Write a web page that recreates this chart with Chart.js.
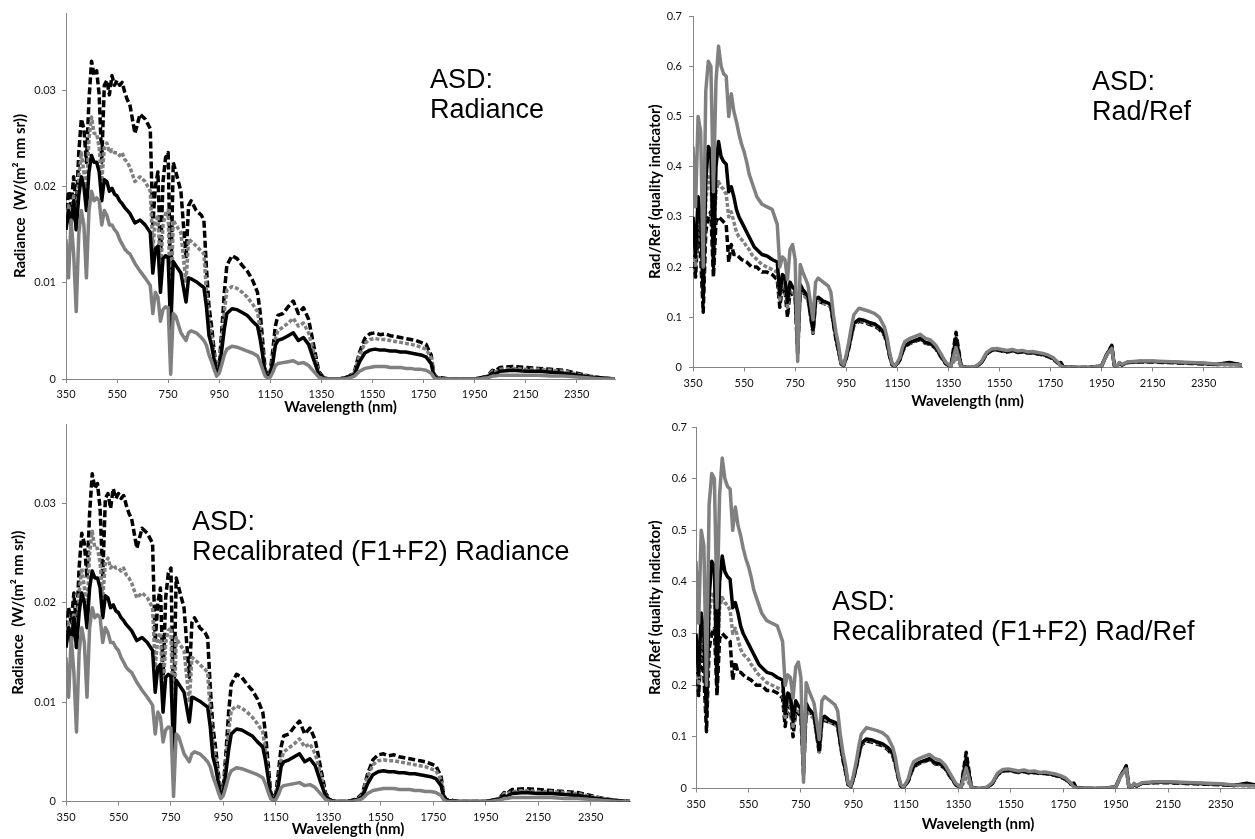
<!DOCTYPE html>
<html>
<head>
<meta charset="utf-8">
<script src="https://cdn.jsdelivr.net/npm/chart.js@4.4.0/dist/chart.umd.min.js"></script>
<style>
  html, body { margin: 0; padding: 0; background: #fff; overflow: hidden; width: 1255px; height: 839px; }
  canvas { position: absolute; }
  .note { position: absolute; font-family: "Liberation Sans", Arial, sans-serif; font-size: 27px; line-height: 30px; color: #000; white-space: nowrap; }
</style>
</head>
<body>
<canvas id="c1" width="630" height="420" style="left:0;top:0"></canvas>
<canvas id="c2" width="615" height="420" style="left:640px;top:0"></canvas>
<canvas id="c3" width="640" height="419" style="left:0;top:420px"></canvas>
<canvas id="c4" width="625" height="419" style="left:640px;top:420px"></canvas>

<div class="note" style="left:430px;top:64px">ASD:<br>Radiance</div>
<div class="note" style="left:1092px;top:66px">ASD:<br>Rad/Ref</div>
<div class="note" style="left:192px;top:506px">ASD:<br>Recalibrated (F1+F2) Radiance</div>
<div class="note" style="left:832px;top:586px">ASD:<br>Recalibrated (F1+F2) Rad/Ref</div>

<script>
// wavelengths (nm) shared by every series
const wavelength = [
  350, 360, 370, 380, 390, 400, 410, 420, 430, 440,
  450, 460, 470, 480, 490, 500, 510, 520, 530, 540,
  550, 560, 570, 580, 590, 600, 620, 640, 660, 680,
  690, 700, 710, 720, 730, 740, 750, 760, 770, 780,
  800, 820, 830, 840, 860, 880, 890, 900, 910, 920,
  930, 940, 950, 960, 970, 980, 1000, 1020, 1040, 1060,
  1080, 1100, 1110, 1120, 1130, 1140, 1150, 1160, 1170, 1180,
  1200, 1220, 1240, 1260, 1280, 1300, 1320, 1340, 1360, 1380,
  1400, 1420, 1440, 1460, 1480, 1500, 1520, 1540, 1560, 1580,
  1600, 1620, 1640, 1660, 1680, 1700, 1720, 1740, 1760, 1780,
  1790, 1800, 1850, 1900, 1950, 1970, 1990, 2000, 2010, 2020,
  2030, 2050, 2100, 2150, 2200, 2250, 2300, 2350, 2400, 2450,
  2500
];

const xTicks = [350, 550, 750, 950, 1150, 1350, 1550, 1750, 1950, 2150, 2350];
const radianceTicks = [0, 0.01, 0.02, 0.03];
const ratioTicks = [0, 0.1, 0.2, 0.3, 0.4, 0.5, 0.6, 0.7];

// Radiance, W/(m2 nm sr)
const radBlackDash = [
  0.0165, 0.0195, 0.018, 0.021, 0.0175, 0.0235, 0.027, 0.026, 0.0225, 0.029,
  0.033, 0.0315, 0.032, 0.0295, 0.0225, 0.0305, 0.031, 0.0295, 0.0315, 0.0305,
  0.031, 0.0305, 0.0308, 0.0298, 0.029, 0.0285, 0.0255, 0.0275, 0.027, 0.026,
  0.016, 0.02, 0.0215, 0.0125, 0.0205, 0.023, 0.0235, 0.009, 0.0225, 0.0215,
  0.0195, 0.0125, 0.018, 0.0185, 0.0175, 0.017, 0.0165, 0.0115, 0.0075, 0.0055,
  0.003, 0.0008, 0.0015, 0.005, 0.009, 0.0118, 0.0128, 0.0125, 0.0118, 0.0112,
  0.0103, 0.009, 0.007, 0.004, 0.001, 0.0003, 0.0008, 0.003, 0.0055, 0.0066,
  0.0068, 0.0075, 0.0081, 0.0068, 0.0074, 0.0062, 0.0035, 0.0008, 0.0001, 0,
  0, 0, 0.0001, 0.0003, 0.0008, 0.0028, 0.0042, 0.0047, 0.0048, 0.0046,
  0.0047, 0.0045, 0.0044, 0.0043, 0.0042, 0.0041, 0.004, 0.0038, 0.0036, 0.0025,
  0.0006, 0.0002, 0, 0, 0, 0.0001, 0.0002, 0.0003, 0.0006, 0.0009,
  0.0008, 0.0012, 0.0013, 0.0012, 0.0011, 0.001, 0.0009, 0.0006, 0.0003, 0.0001,
  0
];
const radGreyDash = [
  0.0155, 0.018, 0.0165, 0.019, 0.0155, 0.021, 0.0235, 0.0215, 0.019, 0.025,
  0.0272, 0.0255, 0.0255, 0.024, 0.0205, 0.024, 0.0245, 0.0235, 0.0238, 0.0235,
  0.0235, 0.0232, 0.0235, 0.0228, 0.0225, 0.022, 0.0205, 0.021, 0.0205, 0.0195,
  0.0135, 0.0165, 0.017, 0.011, 0.016, 0.0172, 0.0175, 0.0065, 0.0165, 0.016,
  0.0152, 0.01, 0.0145, 0.0143, 0.0138, 0.0133, 0.013, 0.009, 0.006, 0.0045,
  0.0025, 0.0006, 0.0012, 0.004, 0.007, 0.0092, 0.0096, 0.0094, 0.009, 0.0085,
  0.0078, 0.007, 0.0052, 0.003, 0.0007, 0.0002, 0.0006, 0.0022, 0.0042, 0.005,
  0.0054, 0.0058, 0.0063, 0.0055, 0.0058, 0.0048, 0.0028, 0.0006, 0.0001, 0,
  0, 0, 0.0001, 0.0002, 0.0007, 0.0025, 0.0037, 0.0041, 0.0042, 0.0041,
  0.0041, 0.004, 0.0039, 0.0038, 0.0037, 0.0036, 0.0035, 0.0033, 0.0031, 0.0022,
  0.0005, 0.0001, 0, 0, 0, 0.0001, 0.0002, 0.0003, 0.0005, 0.0008,
  0.0007, 0.001, 0.0011, 0.001, 0.001, 0.0009, 0.0008, 0.0005, 0.0003, 0.0001,
  0
];
const radBlackSolid = [
  0.0155, 0.0175, 0.016, 0.0185, 0.0155, 0.019, 0.021, 0.02, 0.0175, 0.0215,
  0.0232, 0.0225, 0.0225, 0.0215, 0.0185, 0.0207, 0.0205, 0.0195, 0.0198, 0.0192,
  0.019, 0.0185, 0.0182, 0.0178, 0.0175, 0.0172, 0.0162, 0.0165, 0.016, 0.0152,
  0.011, 0.0135, 0.0138, 0.009, 0.0125, 0.0128, 0.0126, 0.005, 0.0122, 0.0118,
  0.011, 0.008, 0.0105, 0.0104, 0.0101, 0.0097, 0.0095, 0.0075, 0.0045, 0.0035,
  0.002, 0.0005, 0.001, 0.003, 0.0052, 0.0068, 0.0073, 0.0072, 0.0069, 0.0066,
  0.006, 0.0055, 0.0042, 0.0025, 0.0006, 0.0001, 0.0005, 0.0017, 0.0035, 0.004,
  0.0042, 0.0045, 0.0048, 0.004, 0.0043, 0.0036, 0.002, 0.0005, 0.0001, 0,
  0, 0, 0.0001, 0.0002, 0.0005, 0.0018, 0.0027, 0.003, 0.0031, 0.003,
  0.003, 0.0029, 0.0029, 0.0028, 0.0028, 0.0027, 0.0026, 0.0025, 0.0023, 0.0016,
  0.0004, 0.0001, 0, 0, 0, 0.0001, 0.0002, 0.0002, 0.0004, 0.0006,
  0.0005, 0.0008, 0.0009, 0.0008, 0.0008, 0.0007, 0.0006, 0.0004, 0.0002, 0.0001,
  0
];
const radGreySolid = [
  0.0145, 0.0105, 0.0165, 0.013, 0.007, 0.015, 0.0175, 0.016, 0.0105, 0.0175,
  0.0195, 0.0185, 0.0188, 0.0185, 0.016, 0.0175, 0.017, 0.016, 0.016, 0.0155,
  0.0152, 0.0145, 0.014, 0.0135, 0.0132, 0.013, 0.012, 0.0112, 0.0105, 0.0097,
  0.0068, 0.009, 0.0085, 0.006, 0.0072, 0.0075, 0.0074, 0.0005, 0.0068, 0.0065,
  0.0048, 0.004, 0.0048, 0.005, 0.0048, 0.0043, 0.004, 0.0035, 0.0025, 0.0018,
  0.001, 0.0003, 0.0006, 0.0015, 0.0025, 0.0031, 0.0034, 0.0033, 0.0031, 0.0029,
  0.0027, 0.0024, 0.0018, 0.001, 0.0003, 0.0001, 0.0002, 0.0007, 0.0014, 0.0016,
  0.0017, 0.0018, 0.0019, 0.0016, 0.0017, 0.0014, 0.0008, 0.0002, 0, 0,
  0, 0, 0, 0.0001, 0.0003, 0.0008, 0.0011, 0.0012, 0.0013, 0.0013,
  0.0013, 0.0012, 0.0012, 0.0012, 0.0011, 0.0011, 0.001, 0.001, 0.0009, 0.0006,
  0.0002, 0, 0, 0, 0, 0, 0.0001, 0.0001, 0.0002, 0.0003,
  0.0003, 0.0004, 0.0004, 0.0004, 0.0004, 0.0003, 0.0003, 0.0002, 0.0001, 0,
  0
];

// Rad/Ref (quality indicator)
const ratioBlackDash = [
  0.25, 0.18, 0.28, 0.22, 0.11, 0.27, 0.3, 0.31, 0.18, 0.29,
  0.3, 0.295, 0.29, 0.285, 0.21, 0.245, 0.225, 0.225, 0.22, 0.215,
  0.213, 0.21, 0.205, 0.2, 0.2, 0.2, 0.19, 0.19, 0.185, 0.175,
  0.12, 0.16, 0.155, 0.1, 0.15, 0.145, 0.14, 0.025, 0.16, 0.15,
  0.14, 0.068, 0.13, 0.132, 0.128, 0.124, 0.12, 0.086, 0.055, 0.032,
  0.007, 0.003, 0.018, 0.038, 0.062, 0.084, 0.092, 0.09, 0.086, 0.083,
  0.076, 0.064, 0.046, 0.022, 0.005, 0.002, 0.007, 0.015, 0.03, 0.042,
  0.048, 0.052, 0.056, 0.048, 0.046, 0.038, 0.022, 0.007, 0.002, 0.07,
  0.002, 0, 0, 0.002, 0.01, 0.027, 0.034, 0.035, 0.033, 0.031,
  0.033, 0.03, 0.031, 0.029, 0.029, 0.027, 0.025, 0.022, 0.017, 0.008,
  0.01, 0.001, 0, 0, 0.003, 0.025, 0.044, 0.004, 0.002, 0.008,
  0.005, 0.01, 0.011, 0.011, 0.01, 0.009, 0.008, 0.007, 0.006, 0.009,
  0.005
];
const ratioGreyDash = [
  0.28, 0.2, 0.32, 0.28, 0.15, 0.33, 0.38, 0.37, 0.24, 0.35,
  0.37, 0.36, 0.355, 0.345, 0.3, 0.31, 0.29, 0.27, 0.26, 0.255,
  0.25, 0.24, 0.235, 0.225, 0.22, 0.215, 0.205, 0.2, 0.195, 0.19,
  0.135, 0.17, 0.165, 0.12, 0.155, 0.15, 0.145, 0.03, 0.155, 0.145,
  0.135, 0.07, 0.13, 0.135, 0.128, 0.124, 0.12, 0.088, 0.058, 0.034,
  0.008, 0.004, 0.02, 0.04, 0.064, 0.086, 0.094, 0.092, 0.088, 0.085,
  0.078, 0.066, 0.048, 0.024, 0.006, 0.002, 0.008, 0.016, 0.031, 0.043,
  0.049, 0.053, 0.057, 0.049, 0.047, 0.039, 0.023, 0.008, 0.002, 0.02,
  0.002, 0, 0, 0.002, 0.01, 0.028, 0.035, 0.036, 0.034, 0.032,
  0.034, 0.031, 0.032, 0.03, 0.03, 0.028, 0.026, 0.023, 0.018, 0.009,
  0.003, 0.001, 0, 0, 0.003, 0.026, 0.036, 0.004, 0.002, 0.009,
  0.005, 0.01, 0.012, 0.012, 0.011, 0.01, 0.009, 0.008, 0.006, 0.005,
  0.005
];
const ratioBlackSolid = [
  0.3, 0.22, 0.34, 0.3, 0.14, 0.37, 0.44, 0.43, 0.2, 0.4,
  0.45, 0.42, 0.41, 0.405, 0.35, 0.36, 0.34, 0.315, 0.3, 0.29,
  0.28, 0.27, 0.26, 0.25, 0.24, 0.235, 0.225, 0.222, 0.215, 0.21,
  0.145, 0.185, 0.18, 0.13, 0.17, 0.16, 0.155, 0.04, 0.165, 0.155,
  0.142, 0.075, 0.135, 0.14, 0.132, 0.128, 0.124, 0.09, 0.06, 0.035,
  0.008, 0.004, 0.02, 0.04, 0.065, 0.088, 0.096, 0.094, 0.09, 0.087,
  0.08, 0.068, 0.05, 0.025, 0.006, 0.002, 0.008, 0.016, 0.032, 0.044,
  0.05, 0.054, 0.058, 0.05, 0.048, 0.04, 0.024, 0.008, 0.002, 0.058,
  0.003, 0, 0, 0.002, 0.01, 0.028, 0.035, 0.036, 0.034, 0.032,
  0.034, 0.031, 0.032, 0.03, 0.03, 0.028, 0.026, 0.023, 0.018, 0.009,
  0.01, 0.001, 0, 0, 0.003, 0.026, 0.042, 0.004, 0.002, 0.009,
  0.005, 0.01, 0.012, 0.012, 0.011, 0.01, 0.009, 0.008, 0.006, 0.01,
  0.005
];
const ratioGreySolid = [
  0.44, 0.32, 0.5, 0.47, 0.2, 0.55, 0.61, 0.6, 0.35, 0.57,
  0.64, 0.6, 0.585, 0.58, 0.5, 0.545, 0.51, 0.49, 0.465, 0.445,
  0.43, 0.41, 0.385, 0.37, 0.355, 0.34, 0.325, 0.32, 0.315, 0.285,
  0.2, 0.22, 0.215, 0.175, 0.235, 0.245, 0.215, 0.012, 0.205, 0.19,
  0.165, 0.095, 0.17, 0.178, 0.17, 0.162, 0.15, 0.105, 0.07, 0.045,
  0.01, 0.005, 0.025, 0.05, 0.08, 0.105, 0.118, 0.115, 0.112, 0.108,
  0.1, 0.08, 0.06, 0.03, 0.008, 0.003, 0.01, 0.02, 0.04, 0.052,
  0.058, 0.062, 0.066, 0.058, 0.055, 0.045, 0.028, 0.01, 0.002, 0.04,
  0.002, 0, 0, 0.003, 0.012, 0.03, 0.037, 0.038, 0.036, 0.034,
  0.036, 0.033, 0.034, 0.031, 0.032, 0.03, 0.028, 0.025, 0.02, 0.01,
  0.003, 0.001, 0, 0, 0.003, 0.025, 0.038, 0.005, 0.002, 0.01,
  0.006, 0.011, 0.013, 0.013, 0.012, 0.011, 0.01, 0.009, 0.007, 0.006,
  0.005
];

const GREY = '#808080';
const AXIS = '#868686';
const FONT = 'Lato, "Open Sans", sans-serif';
const tickFont = { family: FONT, size: 11 };
const titleFont = { family: FONT, size: 15, weight: 'bold' };

// the four curves, same styles in every panel
function makeDatasets(bd, gd, bs, gs) {
  const pts = arr => wavelength.map((w, i) => ({ x: w, y: arr[i] }));
  return [
    { label: 'black dashed', data: pts(bd), borderColor: '#000', borderWidth: 3.5, borderDash: [7, 3], order: 3 },
    { label: 'grey dashed', data: pts(gd), borderColor: GREY, borderWidth: 3.5, borderDash: [4, 2], order: 2 },
    { label: 'black', data: pts(bs), borderColor: '#000', borderWidth: 3.5, order: 1 },
    { label: 'grey', data: pts(gs), borderColor: GREY, borderWidth: 3.5, order: 0 }
  ];
}

function makeChart(p) {
  const ctx = document.getElementById(p.id).getContext('2d');
  const w = ctx.canvas.width, h = ctx.canvas.height;
  const half = titleFont.size * 1.2 / 2;
  return new Chart(ctx, {
    type: 'line',
    data: { datasets: makeDatasets.apply(null, p.series) },
    options: {
      responsive: false,
      animation: false,
      devicePixelRatio: 1,
      layout: { padding: { left: 0, top: p.area.t, right: w - p.area.r, bottom: 0 } },
      elements: { point: { radius: 0 }, line: { tension: 0, borderJoinStyle: 'round', fill: false } },
      plugins: { legend: { display: false }, tooltip: { enabled: false } },
      scales: {
        x: {
          type: 'linear', min: 350, max: 2500,
          afterBuildTicks: s => { s.ticks = xTicks.map(v => ({ value: v })); },
          afterFit: s => { s.height = h - p.area.b; s.paddingLeft = 0; s.paddingRight = 0; },
          ticks: { font: tickFont, color: '#111', padding: 5, maxRotation: 0, autoSkip: false, callback: v => String(v) },
          grid: { drawOnChartArea: false, drawTicks: true, tickLength: 4, color: AXIS },
          border: { color: AXIS, width: 1 },
          title: { display: true, text: 'Wavelength (nm)', font: titleFont, color: '#000', padding: { top: 0, bottom: Math.max(0, h - half - p.xTitleY) } }
        },
        y: {
          min: 0, max: p.yMax,
          afterBuildTicks: s => { s.ticks = p.yTicks.map(v => ({ value: v })); },
          afterFit: s => { s.width = p.area.l; s.paddingTop = 0; s.paddingBottom = 0; },
          ticks: { font: tickFont, color: '#111', padding: p.yTickPad, callback: v => String(v) },
          grid: { drawOnChartArea: false, drawTicks: true, tickLength: 4, color: AXIS },
          border: { color: AXIS, width: 1 },
          title: { display: true, text: p.yTitle, font: titleFont, color: '#000', padding: { top: p.yTitleX - half, bottom: 0 } }
        }
      }
    }
  });
}

const radianceSeries = [radBlackDash, radGreyDash, radBlackSolid, radGreySolid];
const ratioSeries = [ratioBlackDash, ratioGreyDash, ratioBlackSolid, ratioGreySolid];
const radTitle = 'Radiance  (W/(m\u00B2 nm sr))';
const ratioTitle = 'Rad/Ref (quality indicator)';

// xTitleY is the title's centre line inside each canvas
makeChart({ id: 'c1', series: radianceSeries, yMax: 0.038, yTicks: radianceTicks, yTitle: radTitle,
  area: { l: 66, r: 615, t: 13, b: 379 }, yTitleX: 20, yTickPad: 6, xTitleY: 407 });
makeChart({ id: 'c2', series: ratioSeries, yMax: 0.7, yTicks: ratioTicks, yTitle: ratioTitle,
  area: { l: 53, r: 602, t: 16, b: 367.5 }, yTitleX: 15, yTickPad: 7, xTitleY: 401 });
makeChart({ id: 'c3', series: radianceSeries, yMax: 0.038, yTicks: radianceTicks, yTitle: radTitle,
  area: { l: 66, r: 630, t: 4, b: 381.5 }, yTitleX: 18, yTickPad: 6, xTitleY: 409 });
makeChart({ id: 'c4', series: ratioSeries, yMax: 0.7, yTicks: ratioTicks, yTitle: ratioTitle,
  area: { l: 56, r: 620, t: 7, b: 368.5 }, yTitleX: 15, yTickPad: 5, xTitleY: 404 });
</script>
</body>
</html>
